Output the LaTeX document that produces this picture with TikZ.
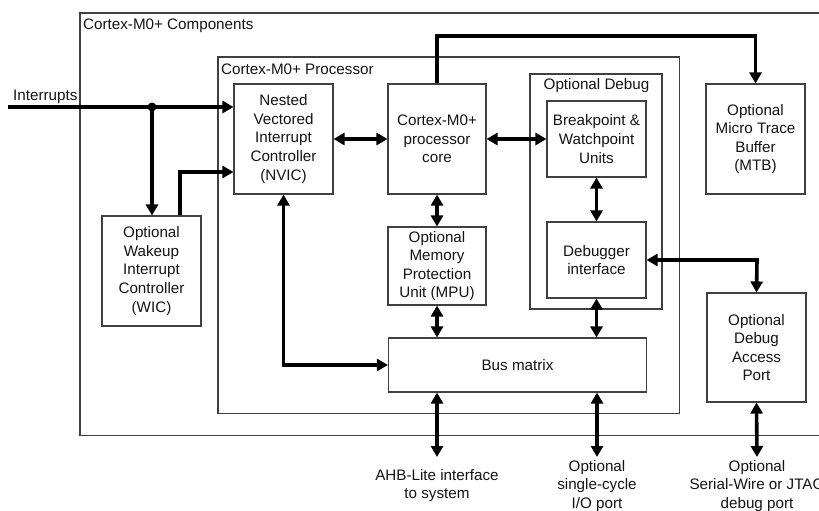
\documentclass[tikz,border=0pt]{standalone}
\usepackage{fontspec}
\setmainfont{Liberation Sans}
\usetikzlibrary{arrows.meta}
\definecolor{boxline}{HTML}{404040}
\definecolor{txt}{HTML}{141414}
\tikzset{
  blk/.style={draw=boxline, line width=1.1pt, text=txt, align=center, inner sep=0pt,
    font=\fontsize{15.2}{18.6}\selectfont},
  frame/.style={draw=boxline, line width=1.1pt},
  lbl/.style={text=txt, inner sep=0pt, font=\fontsize{15.2}{18.6}\selectfont},
  conn/.style={line width=3.6pt, black},
  tip/.style={-{Triangle[length=11pt,width=12pt]}},
  tips/.style={{Triangle[length=11pt,width=12pt]}-{Triangle[length=11pt,width=12pt]}},
}
\begin{document}
\begin{tikzpicture}[x=1pt,y=-1pt]
\useasboundingbox (0,0) rectangle (819,511);
\clip (0,0) rectangle (819,511);
\fill[white] (0,0) rectangle (819,511);
% frames
\draw[frame] (830,13) -- (80,13) -- (80,435.5) -- (830,435.5);
\node[lbl, anchor=west] (lcomp) at (83,25.5) {Cortex-M0+ Components};
\draw[frame] (218,57) rectangle (679.5,413.5);
\node[lbl, anchor=west] (lproc) at (221,69.5) {Cortex-M0+ Processor};
\draw[frame] (530,74) rectangle (662,309);
\node[lbl] (ldbg) at (596.5,86) {Optional Debug};
% blocks
\node[blk, minimum width=99pt, minimum height=110pt] (nvic) at (283.5,139) {Nested\\Vectored\\Interrupt\\Controller\\(NVIC)};
\node[blk, minimum width=98pt, minimum height=110pt] (core) at (437,139) {Cortex-M0+\\processor\\core};
\node[blk, minimum width=99pt, minimum height=76pt] (bwp) at (596.5,139) {Breakpoint \&\\Watchpoint\\Units};
\node[blk, minimum width=99pt, minimum height=76pt] (dbgi) at (596.5,260) {Debugger\\interface};
\node[blk, minimum width=98pt, minimum height=78pt] (mpu) at (437,266) {Optional\\Memory\\Protection\\Unit (MPU)};
\node[blk, minimum width=258pt, minimum height=54pt] (bus) at (517.5,365) {Bus matrix};
\node[blk, minimum width=99pt, minimum height=110pt] (wic) at (151.5,271) {Optional\\Wakeup\\Interrupt\\Controller\\(WIC)};
\node[blk, minimum width=99pt, minimum height=110pt] (mtb) at (755.5,139) {Optional\\Micro Trace\\Buffer\\(MTB)};
\node[blk, minimum width=99pt, minimum height=109pt] (dap) at (756.5,347.5) {Optional\\Debug\\Access\\Port};
% external labels
\node[lbl, anchor=west] (lint) at (13,97) {Interrupts};
\node[lbl, align=center] (lahb) at (437,485.5) {AHB-Lite interface\\to system};
\node[lbl, align=center] (lio) at (597,486) {Optional\\single-cycle\\I/O port};
\node[lbl, align=center] (lswd) at (757,486) {Optional\\Serial-Wire or JTAG\\debug port};
% coordinates
\coordinate (intin) at (8,107);
\coordinate (dot) at (152,107);
\coordinate (ahbend) at (437,457);
\coordinate (ioend) at (597,457);
\coordinate (swdend) at (757,457);
% connectors
\draw[conn, tip] (intin) -- (nvic.west |- intin);
\fill (dot) circle (4.5pt);
\draw[conn, tip] (dot) -- (wic.north -| dot);
\draw[conn, tip] (wic.north -| 180,0) -- (180,172) -- (nvic.west |- 0,172);
\draw[conn, tips] (nvic.east) -- (core.west);
\draw[conn, tips] (core.east) -- (bwp.west);
\draw[conn, tip] (core.north) -- (437,36) -- (mtb.north |- 0,36) -- (mtb.north);
\draw[conn, tips] (core.south) -- (mpu.north);
\draw[conn, tips] (mpu.south) -- (bus.north -| mpu.south);
\draw[conn, tips] (bwp.south) -- (dbgi.north);
\draw[conn, tips] (dbgi.south) -- (bus.north -| dbgi.south);
\draw[conn, tips] (dbgi.east) -- (757,260) -- (dap.north);
\draw[conn, tips] (nvic.south) -- (283.5,365) -- (bus.west);
\draw[conn, tips] (bus.south -| ahbend) -- (ahbend);
\draw[conn, tips] (bus.south -| ioend) -- (ioend);
\draw[conn, tips] (dap.south) -- (swdend);
\end{tikzpicture}
\end{document}
